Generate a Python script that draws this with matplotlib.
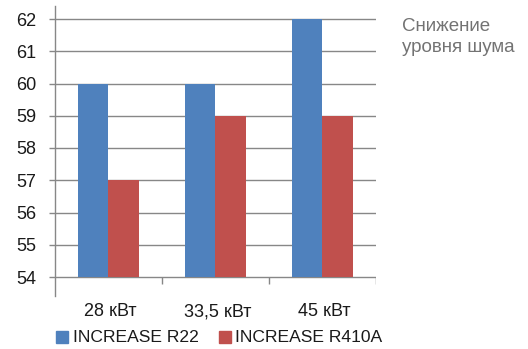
import matplotlib
matplotlib.use("Agg")
import matplotlib.pyplot as plt
import matplotlib.transforms as mtransforms
from matplotlib.patches import Rectangle

categories = ["28 кВт", "33,5 кВт", "45 кВт"]
series_names = ["INCREASE R22", "INCREASE R410A"]
r22 = [60, 60, 62]
r410a = [57, 59, 59]
yticks = [54, 55, 56, 57, 58, 59, 60, 61, 62]
side_title = "Снижение\nуровня шума"

colors = ["#4F81BD", "#C0504D"]
grid_c = "#878787"
W, H = 528, 349
DPI = 100
plt.rcParams['font.family'] = ['Liberation Sans', 'DejaVu Sans']

fig = plt.figure(figsize=(W / DPI, H / DPI), dpi=DPI)

# axes pixel box
x0, x1 = 55, 376
y_top, y_bot = 6, 296
ax = fig.add_axes([x0 / W, 1 - y_bot / H, (x1 - x0) / W, (y_bot - y_top) / H])
px_per_unit = (277 - 19) / 8.0
ymin = 54 - (y_bot - 277) / px_per_unit
ymax = 62 + (19 - y_top) / px_per_unit
ax.set_ylim(ymin, ymax)
ax.set_xlim(0, 3)

bw = 0.287
xs = [i + 0.5 for i in range(len(categories))]
ax.bar([x - bw / 2 for x in xs], [v - 54 for v in r22], bottom=54, width=bw,
       color=colors[0], zorder=3)
ax.bar([x + bw / 2 for x in xs], [v - 54 for v in r410a], bottom=54, width=bw,
       color=colors[1], zorder=3)

for s in ["top", "right", "bottom"]:
    ax.spines[s].set_visible(False)
ax.spines["left"].set_color(grid_c)
ax.spines["left"].set_linewidth(1.0)

ax.set_yticks(yticks)
ax.set_yticklabels([str(t) for t in yticks], fontsize=13, color="#1a1a1a")
ax.tick_params(axis="y", length=4.5, width=1.0, color=grid_c, pad=9)
ax.set_xticks([])
for t in yticks:
    ax.axhline(t, color=grid_c, lw=1.0, zorder=1)
# category boundary ticks below the 54 line
tick_len = 7 / px_per_unit
ax.vlines([1, 2, 3], 54 - tick_len, 54, color=grid_c, lw=1.0, zorder=1)

# category labels
trans = mtransforms.blended_transform_factory(ax.transData, fig.transFigure)
for x, c in zip(xs, categories):
    ax.text(x + 0.02, 1 - 312 / H, c, transform=trans, ha="center", va="center",
            fontsize=13, color="#1a1a1a")

# legend
leg_y = 337
sq = 12
for (lx, tx), name, col in zip([(56, 73), (219, 235)], series_names, colors):
    fig.patches.append(Rectangle((lx / W, 1 - (leg_y + sq / 2) / H), sq / W, sq / H,
                                 transform=fig.transFigure, color=col))
    fig.text(tx / W, 1 - leg_y / H, name, ha="left", va="center", fontsize=12.6,
             color="#1a1a1a")

fig.text(402 / W, 1 - 18 / H, side_title, ha="left", va="top", fontsize=13.5,
         color="#737373", linespacing=1.3)

fig.savefig("out.png", dpi=DPI)
